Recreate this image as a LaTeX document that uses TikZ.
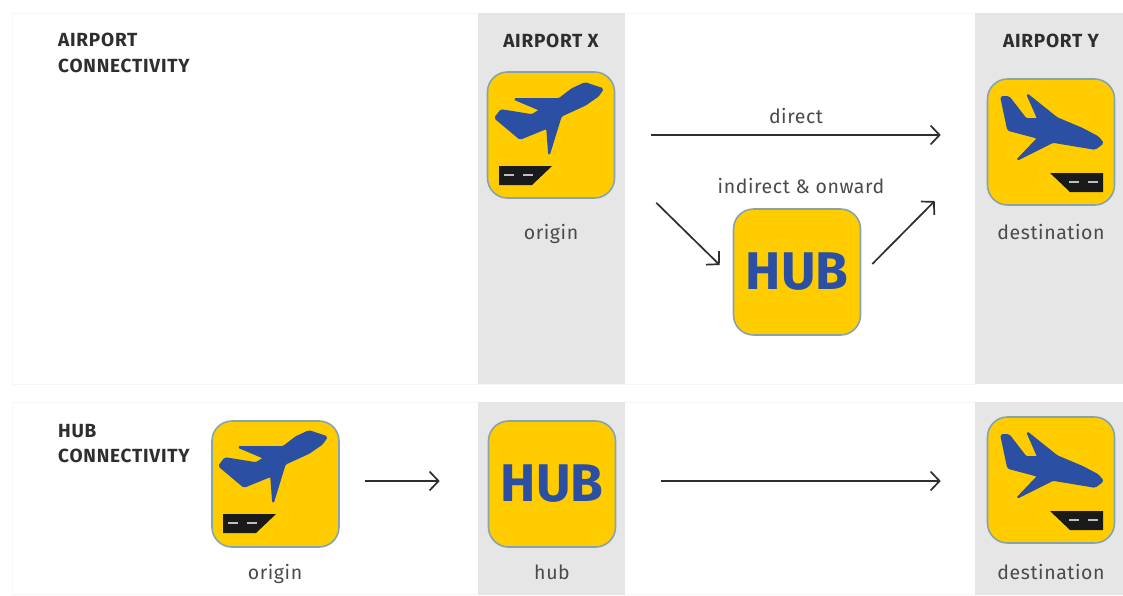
\documentclass[tikz,border=0pt]{standalone}
\usepackage{fontspec}
\setmainfont{Fira Sans}
\usetikzlibrary{arrows.meta}
\definecolor{ylw}{HTML}{FFCC00}
\definecolor{edgeblue}{HTML}{86A3B0}
\definecolor{planeblue}{HTML}{2B4FA3}
\definecolor{runway}{HTML}{1A1A1A}
\definecolor{panel}{HTML}{E6E6E6}
\definecolor{soft}{HTML}{F6F6F6}
\definecolor{txt}{HTML}{4A4A4A}
\definecolor{head}{HTML}{2E2E2E}
\tikzset{
  x=1pt,y=-1pt,
  panelbox/.style={fill=panel,draw=none},
  framebox/.style={draw=soft,line width=1pt,fill=white},
  iconbox/.style={draw=edgeblue,line width=1.6pt,fill=ylw,rounded corners=20pt,minimum width=127pt,minimum height=126pt,inner sep=0pt,
    text=planeblue,font=\fontsize{53}{53}\selectfont\bfseries},
  arr/.style={draw=head,line width=1.7pt,-{Straight Barb[length=9pt,width=19pt,line width=1.7pt]}},
  heading/.style={font=\fontsize{19}{25.5}\selectfont\bfseries\addfontfeature{LetterSpace=4},text=head,align=left,inner sep=0pt,anchor=north west},
  caption/.style={font=\fontsize{19.5}{22}\selectfont\addfontfeature{LetterSpace=3},text=txt,inner sep=0pt,anchor=base},
  dashmark/.style={draw=white!75!black,line width=2.4pt},
  planeshape/.style={fill=planeblue,draw=planeblue,line width=1.6pt,line join=round,rounded corners=1.5pt},
}
\newcommand{\takeoff}[1]{%
  \begin{scope}[shift={(#1)}]
    \path[planeshape] (116,17)--(98,11)--(85,17)--(72,27)--(27,27)--(53,38)--(45,43)--(14,38)--(8,46)--(33,67)--(60,56)--(62,83)--(74,44)--(98,33)--(111,24)--cycle;
    \fill[runway] (12,94)--(65,94)--(45,113)--(12,113)--cycle;
    \draw[dashmark] (17,103)--(27,103) (36,103)--(46,103);
  \end{scope}}
\newcommand{\landing}[1]{%
  \begin{scope}[shift={(#1)}]
    \path[planeshape] (14,18)--(22,18)--(39,40)--(51,40)--(40,15)--(70,39)--(96,50)--(111,58)--(116,64)--(108,70)--(90,67)--(66,63)--(30,81)--(51,59)--(21,51)--cycle;
    \fill[runway] (63,94)--(116,94)--(116,113)--(83,113)--cycle;
    \draw[dashmark] (82,103)--(92,103) (101,103)--(111,103);
  \end{scope}}
\begin{document}
\begin{tikzpicture}
\useasboundingbox (0,0) rectangle (1123,595);
\fill[white] (0,0) rectangle (1123,595);
% frames
\draw[framebox] (12,13) rectangle (975,384);
\draw[framebox] (12,402) rectangle (975,594);
% panels
\fill[panelbox] (478,13) rectangle (625,384);
\fill[panelbox] (975,13) rectangle (1123,384);
\fill[panelbox] (478,402) rectangle (625,595);
\fill[panelbox] (975,402) rectangle (1123,595);
% headings
\node[heading] (h1) at (58,33) {AIRPORT\\CONNECTIVITY};
\node[heading] (h2) at (58,424) {HUB\\CONNECTIVITY};
\node[heading,anchor=north] (hx) at (551,34) {AIRPORT X};
\node[heading,anchor=north] (hy) at (1051,34) {AIRPORT Y};
% icons
\node[iconbox] (x) at (551,135) {};
\takeoff{487,72}
\node[iconbox] (y) at (1051,142) {};
\landing{987,79}
\node[iconbox] (hub) at (797,272) {HUB};
\node[iconbox] (o2) at (275.5,484) {};
\takeoff{211,420}
\node[iconbox] (hub2) at (552,484) {HUB};
\node[iconbox] (y2) at (1051,480) {};
\landing{987,417}
% captions
\node[caption] (c1) at (551,239) {origin};
\node[caption] (c2) at (1051,239) {destination};
\node[caption] (c3) at (275,579) {origin};
\node[caption] (c4) at (552,579) {hub};
\node[caption] (c5) at (1051,579) {destination};
\node[caption] (l1) at (796,123) {direct};
\node[caption] (l2) at (801,193) {indirect \& onward};
% arrows
\draw[arr] ([xshift=36pt]x.east) -- ([shift={(-46pt,7pt)}]y.west);
\draw[arr] ([shift={(41pt,-4pt)}]x.south east) -- ([shift={(-13pt,7pt)}]hub.west);
\draw[arr] ([shift={(11pt,8pt)}]hub.east) -- ([shift={(-52pt,-59pt)}]y.west);
\draw[arr] ([shift={(25pt,3pt)}]o2.east) -- ([shift={(-48pt,3pt)}]hub2.west);
\draw[arr] ([shift={(45pt,3pt)}]hub2.east) -- ([shift={(-46pt,-1pt)}]y2.west);
\end{tikzpicture}
\end{document}
